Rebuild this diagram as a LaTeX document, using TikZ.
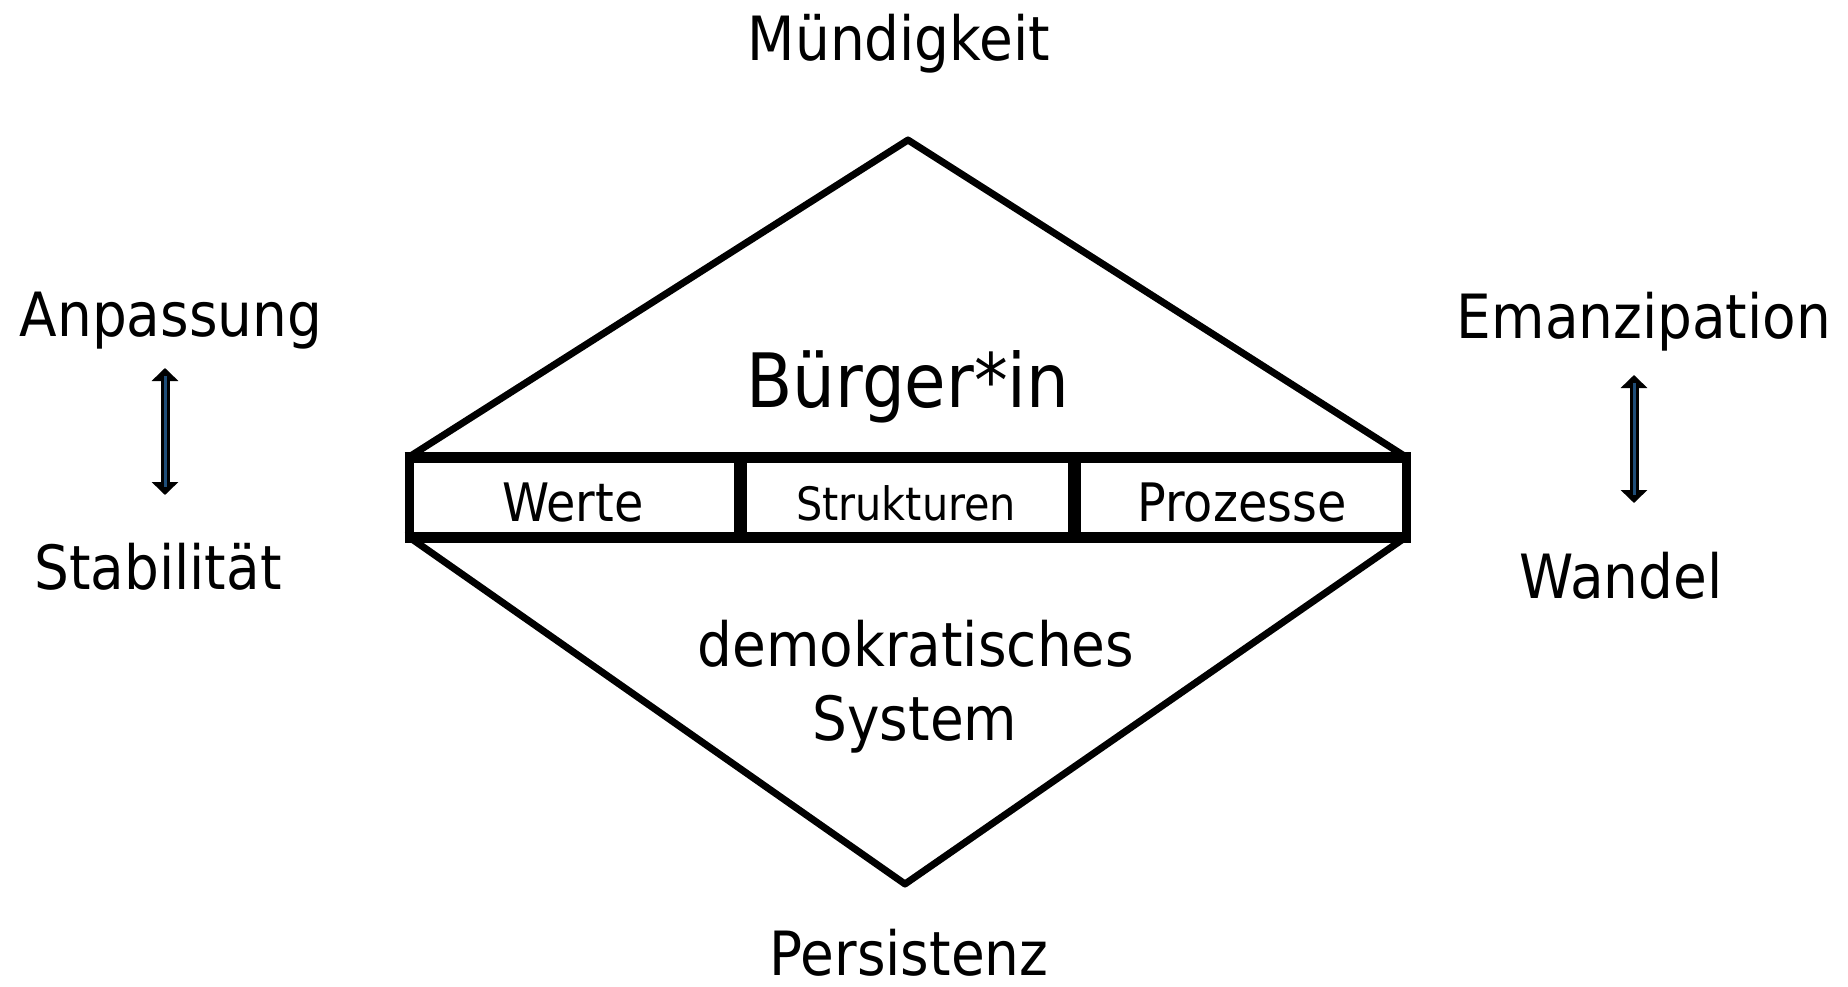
\documentclass[tikz,border=0pt]{standalone}
\usepackage{fontspec}
\setmainfont{DejaVu Sans Condensed}
\usetikzlibrary{arrows.meta}
\definecolor{arrblue}{HTML}{1F4E79}
\begin{document}
\begin{tikzpicture}[x=1pt,y=-1pt,
  lbl/.style={anchor=base, inner sep=0pt, font=\fontsize{61}{70}\selectfont},
  big/.style={anchor=base, inner sep=0pt, font=\fontsize{75}{86}\selectfont},
  cell/.style={anchor=base, inner sep=0pt, font=\fontsize{53}{60}\selectfont},
  cellsmall/.style={anchor=base, inner sep=0pt, font=\fontsize{46}{54}\selectfont},
  diag/.style={line width=7pt, line join=round, line cap=round},
  barline/.style={line width=11pt},
  barvert/.style={line width=9pt},
  divider/.style={line width=13pt},
  dblarrow/.style={line width=9pt, {Triangle[width=26pt,length=13pt]}-{Triangle[width=26pt,length=13pt]}},
  arrcore/.style={line width=3pt, draw=arrblue}
]
\useasboundingbox (0,0) rectangle (1848,987);
% diamond geometry
\coordinate (top) at (908,140);
\coordinate (bot) at (905,884);
\coordinate (tl) at (409,457);
\coordinate (tr) at (1406,457);
\coordinate (bl) at (409,537);
\coordinate (br) at (1406,537);
\coordinate (d1t) at (740,457);
\coordinate (d1b) at (740,537);
\coordinate (d2t) at (1074,457);
\coordinate (d2b) at (1074,537);
\draw[diag] (tl) -- (top) -- (tr);
\draw[diag] (bl) -- (bot) -- (br);
\draw[barvert] (tl) -- (bl);
\draw[barvert] (tr) -- (br);
\draw[divider] (d1t) -- (d1b);
\draw[divider] (d2t) -- (d2b);
\draw[barline] ([xshift=-4.5pt]tl) -- ([xshift=4.5pt]tr);
\draw[barline] ([xshift=-4.5pt]bl) -- ([xshift=4.5pt]br);
% labels
\node[lbl] (muend) at (899,61) {Mündigkeit};
\node[big] (buerger) at (908,407) {Bürger*in};
\node[cell] (werte) at (573,521) {Werte};
\node[cellsmall] (strukt) at (906,520) {Strukturen};
\node[cell] (proz) at (1242,521) {Prozesse};
\node[lbl] (demo) at (916,666) {demokratisches};
\node[lbl] (sys) at (915,740) {System};
\node[lbl] (pers) at (909,975) {Persistenz};
\node[lbl] (anp) at (171,336) {Anpassung};
\node[lbl] (stab) at (158,589) {Stabilität};
\node[lbl] (eman) at (1644,338) {Emanzipation};
\node[lbl] (wand) at (1621,598) {Wandel};
% arrows
\coordinate (la1) at (165,368);
\coordinate (la2) at (165,495);
\coordinate (ra1) at (1634,375);
\coordinate (ra2) at (1634,503);
\draw[dblarrow] (la1) -- (la2);
\draw[arrcore] ([yshift=-8pt]la1) -- ([yshift=8pt]la2);
\draw[dblarrow] (ra1) -- (ra2);
\draw[arrcore] ([yshift=-8pt]ra1) -- ([yshift=8pt]ra2);
\end{tikzpicture}
\end{document}
